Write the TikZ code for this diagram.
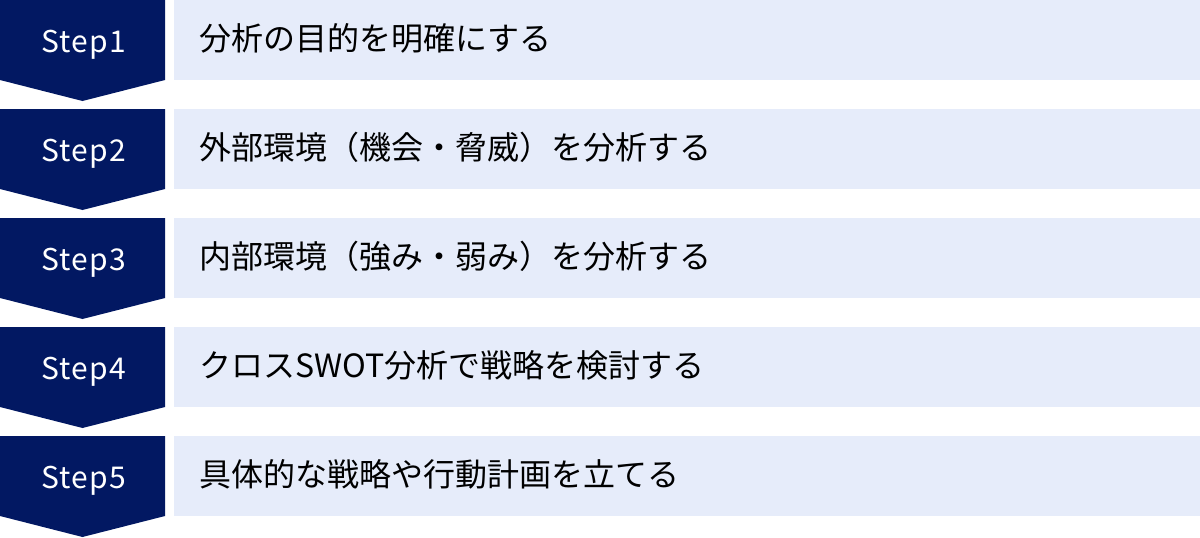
\documentclass[tikz,border=0pt]{standalone}
\usepackage{fontspec}
\setmainfont{Noto Sans CJK JP}
\newfontfamily\stepfont[LetterSpace=4]{Noto Sans CJK JP}
\definecolor{navy}{RGB}{2,24,98}
\definecolor{pale}{RGB}{230,236,250}
\usetikzlibrary{calc}
\begin{document}
\begin{tikzpicture}[x=1pt,y=-1pt]
	\tikzstyle{chevron}=[fill=navy];
	\tikzstyle{band}=[fill=pale];
	\tikzstyle{stepname}=[text=white,inner sep=0pt,anchor=base,font=\stepfont\fontsize{30}{30}\selectfont];
	\tikzstyle{task}=[anchor=west,inner sep=0pt,font=\fontsize{32}{32}\selectfont];
\newcommand{\pitch}{109}
\newcommand{\boxh}{80}
%<--------------------------------------------------------------------------->%

	\useasboundingbox (0,0) rectangle (1200,538);
	\coordinate (S1) at (0,0);
	\coordinate (S2) at (0,\pitch);
	\coordinate (S3) at (0,2*\pitch);
	\coordinate (S4) at (0,3*\pitch);
	\coordinate (S5) at (0,4*\pitch);
	%% chevrons
	\fill[chevron] (S1) -- ++(165,0) -- ++(0,\boxh) -- ++(-82.5,21) -- ++(-82.5,-21) --cycle;
	\fill[chevron] (S2) -- ++(165,0) -- ++(0,\boxh) -- ++(-82.5,21) -- ++(-82.5,-21) --cycle;
	\fill[chevron] (S3) -- ++(165,0) -- ++(0,\boxh) -- ++(-82.5,21) -- ++(-82.5,-21) --cycle;
	\fill[chevron] (S4) -- ++(165,0) -- ++(0,\boxh) -- ++(-82.5,21) -- ++(-82.5,-21) --cycle;
	\fill[chevron] (S5) -- ++(165,0) -- ++(0,\boxh) -- ++(-82.5,21) -- ++(-82.5,-21) --cycle;
	%% bands
	\fill[band] ($(S1)+(174,0)$) rectangle ++(1026,\boxh);
	\fill[band] ($(S2)+(174,0)$) rectangle ++(1026,\boxh);
	\fill[band] ($(S3)+(174,0)$) rectangle ++(1026,\boxh);
	\fill[band] ($(S4)+(174,0)$) rectangle ++(1026,\boxh);
	\fill[band] ($(S5)+(174,0)$) rectangle ++(1026,\boxh);
	%% labels
	\node[stepname] (step1) at ($(S1)+(83.5,52)$) {Step1};
	\node[stepname] (step2) at ($(S2)+(83.5,52)$) {Step2};
	\node[stepname] (step3) at ($(S3)+(83.5,52)$) {Step3};
	\node[stepname] (step4) at ($(S4)+(83.5,52)$) {Step4};
	\node[stepname] (step5) at ($(S5)+(83.5,52)$) {Step5};
	\node[task] (task1) at ($(S1)+(199,38)$) {分析の目的を明確にする};
	\node[task] (task2) at ($(S2)+(199,38)$) {外部環境（機会・脅威）を分析する};
	\node[task] (task3) at ($(S3)+(199,38)$) {内部環境（強み・弱み）を分析する};
	\node[task] (task4) at ($(S4)+(199,38)$) {クロスSWOT分析で戦略を検討する};
	\node[task] (task5) at ($(S5)+(199,38)$) {具体的な戦略や行動計画を立てる};
\end{tikzpicture}
\end{document}
